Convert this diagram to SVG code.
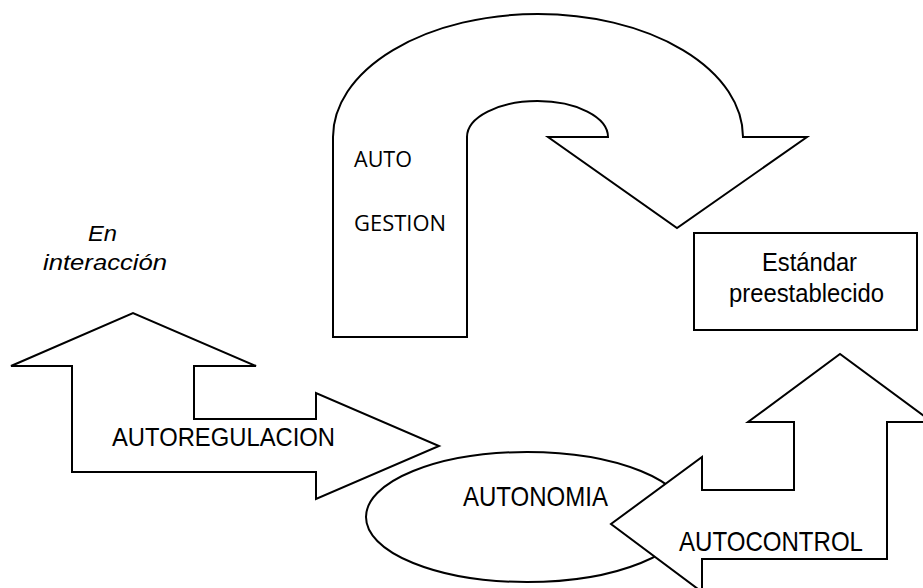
<svg xmlns="http://www.w3.org/2000/svg" width="923" height="588" viewBox="0 0 923 588">
<style>
.shape{fill:#fff;stroke:#000;stroke-width:2;stroke-linejoin:miter}
.t{font-family:"Liberation Sans",Arial,sans-serif;fill:#000}
.c{font-family:"Open Sans","Liberation Sans",sans-serif;fill:#000}
</style>
<rect width="923" height="588" fill="#fff"/>
<g id="autogestion">
<path class="shape" d="M333,337 L333,137 A205,123 0 0 1 743,137 L807,137 L677,228 L548,137 L608,137 A70.5,36 0 0 0 467,137 L467,337 Z"/>
<text class="c" x="354" y="167" font-size="21" textLength="58" lengthAdjust="spacingAndGlyphs">AUTO</text>
<text class="c" x="354" y="231" font-size="21" textLength="92" lengthAdjust="spacingAndGlyphs">GESTION</text>
</g>
<g id="interaccion">
<text class="t" x="88" y="241" font-size="22" font-style="italic" textLength="29" lengthAdjust="spacingAndGlyphs">En</text>
<text class="t" x="43" y="270" font-size="22" font-style="italic" textLength="124" lengthAdjust="spacingAndGlyphs">interacción</text>
</g>
<g id="estandar">
<rect class="shape" x="694" y="233" width="223" height="97"/>
<text class="t" x="762" y="271" font-size="25" textLength="95" lengthAdjust="spacingAndGlyphs">Estándar</text>
<text class="t" x="729" y="302" font-size="25" textLength="155" lengthAdjust="spacingAndGlyphs">preestablecido</text>
</g>
<g id="autonomia">
<ellipse class="shape" cx="527" cy="517" rx="161" ry="65"/>
<text class="t" x="463" y="506" font-size="28" textLength="145" lengthAdjust="spacingAndGlyphs">AUTONOMIA</text>
</g>
<g id="autoregulacion">
<path class="shape" d="M72,472 L72,366 L11,366 L133,313 L256,366 L194,366 L194,419 L316,419 L316,393 L439,446 L316,499 L316,472 Z"/>
<text class="t" x="112" y="446" font-size="26.5" textLength="223" lengthAdjust="spacingAndGlyphs">AUTOREGULACION</text>
</g>
<g id="autocontrol">
<path class="shape" d="M702,600 L702,559 L887,559 L887,422 L932,422 L840,354 L748,422 L794,422 L794,490 L702,490 L702,457 L611,524 L702,592 Z"/>
<text class="t" x="679" y="551" font-size="28" textLength="184" lengthAdjust="spacingAndGlyphs">AUTOCONTROL</text>
</g>
<g id="connectors"></g>
</svg>
